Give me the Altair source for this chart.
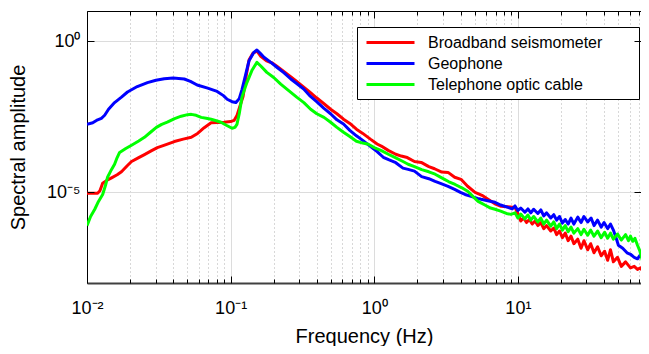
import json
import altair as alt
import pandas as pd

FONT = "Liberation Sans"

SERIES = ["Broadband seismometer", "Geophone", "Telephone optic cable"]
COLORS = ["#ff0000", "#0000ff", "#00ff00"]

# values, as log10(frequency in Hz) and log10(amplitude)
bb_logf = [-2.000, -1.960, -1.926, -1.910, -1.891, -1.860, -1.829, -1.790, -1.760, -1.720,
           -1.690, -1.640, -1.600, -1.550, -1.510, -1.450, -1.392, -1.330, -1.274, -1.230,
           -1.184, -1.136, -1.090, -1.046, -1.000, -0.976, -0.955, -0.942, -0.913, -0.890,
           -0.872, -0.845, -0.817, -0.790, -0.750, -0.710, -0.678, -0.630, -0.580, -0.540,
           -0.491, -0.450, -0.400, -0.350, -0.304, -0.260, -0.214, -0.170, -0.124, -0.080,
           -0.027, 0.020, 0.049, 0.100, 0.150, 0.188, 0.230, 0.280, 0.327, 0.380,
           0.420, 0.470, 0.514, 0.560, 0.604, 0.650, 0.702, 0.750, 0.792, 0.840,
           0.883, 0.930, 0.980, 1.000, 1.020, 1.040, 1.060, 1.080, 1.100, 1.120,
           1.139, 1.160, 1.180, 1.200, 1.229, 1.250, 1.270, 1.290, 1.310, 1.330,
           1.350, 1.370, 1.390, 1.417, 1.440, 1.460, 1.486, 1.507, 1.530, 1.555,
           1.580, 1.604, 1.625, 1.645, 1.665, 1.694, 1.720, 1.750, 1.784, 1.810,
           1.833, 1.854, 1.875, 1.890]
bb_loga = [-5.03, -5.03, -5.03, -4.95, -4.70, -4.60, -4.52, -4.42, -4.32, -4.12,
           -3.98, -3.85, -3.75, -3.62, -3.52, -3.42, -3.32, -3.24, -3.18, -3.05,
           -2.86, -2.70, -2.69, -2.68, -2.66, -2.62, -2.45, -2.25, -1.82, -1.10,
           -0.62, -0.40, -0.32, -0.50, -0.65, -0.72, -0.83, -1.00, -1.18, -1.33,
           -1.52, -1.68, -1.88, -2.07, -2.25, -2.40, -2.58, -2.72, -2.91, -3.05,
           -3.24, -3.40, -3.47, -3.62, -3.74, -3.80, -3.85, -3.98, -4.01, -4.15,
           -4.22, -4.33, -4.34, -4.50, -4.57, -4.80, -5.00, -5.10, -5.23, -5.38,
           -5.46, -5.48, -5.50, -5.70, -5.95, -5.85, -6.00, -5.90, -6.05, -5.95,
           -6.10, -6.00, -6.20, -6.10, -6.28, -6.18, -6.40, -6.28, -6.50, -6.35,
           -6.60, -6.45, -6.70, -6.55, -6.85, -6.60, -6.90, -6.70, -7.00, -6.80,
           -7.10, -6.95, -7.25, -6.90, -7.30, -7.15, -7.45, -7.30, -7.50, -7.45,
           -7.55, -7.50, -7.65, -7.70]

geo_logf = [-2.000, -1.960, -1.926, -1.900, -1.877, -1.850, -1.808, -1.760, -1.718, -1.650,
            -1.579, -1.520, -1.462, -1.400, -1.323, -1.280, -1.233, -1.160, -1.094, -1.050,
            -1.024, -0.990, -0.963, -0.940, -0.921, -0.895, -0.872, -0.840, -0.817, -0.790,
            -0.768, -0.720, -0.678, -0.630, -0.581, -0.540, -0.491, -0.450, -0.401, -0.350,
            -0.304, -0.260, -0.214, -0.170, -0.124, -0.080, -0.027, 0.020, 0.063, 0.100,
            0.150, 0.200, 0.236, 0.280, 0.330, 0.380, 0.424, 0.470, 0.514, 0.560,
            0.600, 0.632, 0.680, 0.720, 0.744, 0.790, 0.841, 0.880, 0.931, 0.960,
            0.980, 1.000, 1.020, 1.049, 1.070, 1.090, 1.110, 1.139, 1.160, 1.180,
            1.200, 1.229, 1.250, 1.270, 1.290, 1.310, 1.330, 1.350, 1.370, 1.390,
            1.417, 1.440, 1.460, 1.486, 1.510, 1.530, 1.555, 1.580, 1.600, 1.625,
            1.645, 1.665, 1.680, 1.700, 1.730, 1.760, 1.784, 1.810, 1.833, 1.855,
            1.875, 1.890]
geo_loga = [-2.75, -2.70, -2.60, -2.55, -2.45, -2.25, -2.03, -1.85, -1.68, -1.50,
            -1.37, -1.29, -1.24, -1.22, -1.25, -1.33, -1.45, -1.55, -1.66, -1.80,
            -1.92, -2.00, -2.03, -1.90, -1.60, -1.10, -0.65, -0.38, -0.29, -0.42,
            -0.53, -0.70, -0.86, -1.04, -1.25, -1.40, -1.58, -1.80, -2.00, -2.22,
            -2.40, -2.60, -2.74, -2.95, -3.13, -3.28, -3.48, -3.65, -3.84, -3.92,
            -4.02, -4.20, -4.24, -4.30, -4.48, -4.55, -4.64, -4.72, -4.80, -4.90,
            -5.00, -5.07, -5.14, -5.20, -5.23, -5.28, -5.33, -5.42, -5.50, -5.55,
            -5.45, -5.60, -5.52, -5.66, -5.55, -5.68, -5.56, -5.70, -5.58, -5.78,
            -5.68, -5.85, -5.74, -5.92, -5.80, -6.02, -5.90, -6.05, -5.85, -6.05,
            -5.82, -6.00, -5.80, -5.98, -5.85, -6.10, -5.92, -6.15, -6.00, -6.20,
            -6.05, -6.25, -6.45, -6.75, -6.85, -7.00, -7.05, -7.15, -7.20, -7.05,
            -6.95, -7.00]

tel_logf = [-2.000, -1.975, -1.946, -1.920, -1.891, -1.870, -1.857, -1.830, -1.808, -1.790,
            -1.773, -1.730, -1.690, -1.640, -1.600, -1.560, -1.517, -1.480, -1.441, -1.390,
            -1.344, -1.300, -1.274, -1.240, -1.205, -1.170, -1.136, -1.100, -1.067, -1.030,
            -0.990, -0.970, -0.956, -0.940, -0.921, -0.900, -0.886, -0.850, -0.817, -0.790,
            -0.748, -0.700, -0.651, -0.600, -0.540, -0.490, -0.443, -0.400, -0.350, -0.304,
            -0.260, -0.214, -0.170, -0.124, -0.080, -0.041, 0.000, 0.050, 0.098, 0.150,
            0.200, 0.236, 0.280, 0.330, 0.380, 0.424, 0.470, 0.520, 0.563, 0.610,
            0.653, 0.690, 0.723, 0.770, 0.810, 0.841, 0.880, 0.920, 0.952, 0.980,
            1.000, 1.020, 1.049, 1.070, 1.090, 1.110, 1.139, 1.160, 1.180, 1.200,
            1.229, 1.250, 1.270, 1.290, 1.310, 1.330, 1.350, 1.370, 1.390, 1.417,
            1.440, 1.460, 1.486, 1.507, 1.530, 1.555, 1.580, 1.604, 1.625, 1.645,
            1.665, 1.694, 1.720, 1.750, 1.770, 1.784, 1.800, 1.815, 1.833, 1.850,
            1.867, 1.880, 1.892]
tel_loga = [-6.10, -5.80, -5.56, -5.30, -5.07, -4.75, -4.50, -4.25, -4.07, -3.85,
            -3.68, -3.55, -3.44, -3.30, -3.18, -3.02, -2.85, -2.75, -2.68, -2.56,
            -2.48, -2.43, -2.42, -2.45, -2.52, -2.55, -2.58, -2.63, -2.68, -2.78,
            -2.88, -2.85, -2.75, -2.40, -1.85, -1.55, -1.36, -0.95, -0.70, -0.82,
            -1.03, -1.20, -1.42, -1.62, -1.85, -2.03, -2.25, -2.40, -2.52, -2.68,
            -2.85, -3.01, -3.15, -3.31, -3.37, -3.41, -3.52, -3.62, -3.74, -3.86,
            -3.98, -4.07, -4.15, -4.25, -4.32, -4.40, -4.52, -4.65, -4.74, -4.85,
            -4.97, -5.15, -5.30, -5.42, -5.52, -5.56, -5.62, -5.70, -5.73, -5.68,
            -5.85, -5.72, -5.88, -5.75, -5.92, -5.80, -5.98, -5.85, -6.05, -5.92,
            -6.12, -5.98, -6.20, -6.05, -6.25, -6.10, -6.30, -6.15, -6.35, -6.20,
            -6.40, -6.22, -6.42, -6.25, -6.45, -6.28, -6.50, -6.32, -6.52, -6.35,
            -6.55, -6.38, -6.58, -6.40, -6.60, -6.45, -6.62, -6.52, -6.75, -6.95,
            -7.25, -7.60, -8.10]

X_MAJOR = [0.01, 0.1, 1, 10]
X_MAJOR_LABELS = ["10⁻²", "10⁻¹", "10⁰", "10¹"]
X_MINOR = [0.02, 0.03, 0.04, 0.05, 0.06, 0.07, 0.08, 0.09,
           0.2, 0.3, 0.4, 0.5, 0.6, 0.7, 0.8, 0.9,
           2, 3, 4, 5, 6, 7, 8, 9,
           20, 30, 40, 50, 60, 70]
Y_MAJOR = [1e-05, 1]
Y_MAJOR_LABELS = ["10⁻⁵", "10⁰"]

X_DOMAIN = [0.01, 72]
Y_DOMAIN = [1e-08, 10]

PLOT_W, PLOT_H = 554, 272

rows = []
for name, lf, la in zip(SERIES, [bb_logf, geo_logf, tel_logf], [bb_loga, geo_loga, tel_loga]):
    for f, a in zip(lf, la):
        rows.append({"series": name, "freq": 10 ** f, "amp": 10 ** a})
df = pd.DataFrame(rows)


def label_expr(values, labels):
    expr = "''"
    for v, t in reversed(list(zip(values, labels))):
        expr = f"datum.value == {v!r} ? '{t}' : ({expr})"
    return expr


x_all = sorted(X_MAJOR + X_MINOR)
major_test = f"indexof({json.dumps(X_MAJOR)}, datum.value) >= 0"

xs = alt.Scale(type="log", domain=X_DOMAIN, nice=False)
ys = alt.Scale(type="log", domain=Y_DOMAIN, nice=False)

x_main = alt.Axis(
    values=x_all, labelExpr=label_expr(X_MAJOR, X_MAJOR_LABELS), ticks=False, tickSize=0,
    domain=True, domainColor="#404040", domainWidth=2,
    grid=True,
    gridColor={"condition": {"test": major_test, "value": "#dcdcdc"}, "value": "#b0b0b0"},
    gridDash={"condition": {"test": major_test, "value": []}, "value": [1, 3]},
    gridWidth=1,
    labelFont=FONT, labelFontSize=18, labelColor="black", labelPadding=16,
    labelBaseline="top", labelOverlap=False, labelFlush=False,
    title="Frequency (Hz)", titleFont=FONT, titleFontSize=20, titleFontWeight="normal",
    titleColor="black", titleY=59, titleBaseline="alphabetic",
)
y_main = alt.Axis(
    values=Y_MAJOR, labelExpr=label_expr(Y_MAJOR, Y_MAJOR_LABELS), ticks=False, tickSize=0,
    domain=True, domainColor="black", domainWidth=1,
    grid=True, gridColor="#dcdcdc", gridWidth=1,
    labelFont=FONT, labelFontSize=18, labelColor="black", labelPadding=7,
    labelBaseline="middle", labelOverlap=False, labelFlush=False,
    title="Spectral amplitude", titleFont=FONT, titleFontSize=20, titleFontWeight="normal",
    titleColor="black", titleX=-63, titleY=136, titleBaseline="alphabetic", titleAlign="center",
)

tick_size = {"condition": {"test": major_test, "value": 7}, "value": 4}


def tick_axis_x(orient, domain):
    return alt.Axis(orient=orient, offset=-PLOT_H, values=x_all, labels=False, grid=False,
                    ticks=True, tickSize=tick_size, tickColor="black", tickWidth=1,
                    domain=domain, domainColor="black", domainWidth=1, title=None, zindex=1)


def tick_axis_y(orient, domain):
    return alt.Axis(orient=orient, offset=-PLOT_W, values=Y_MAJOR, labels=False, grid=False,
                    ticks=True, tickSize=7, tickColor="black", tickWidth=1,
                    domain=domain, domainColor="black", domainWidth=1, title=None, zindex=1)


# legend line symbol; the trailing move-to only widens the legend frame
legend = alt.Legend(
    orient="none", legendX=270, legendY=16, title=None,
    symbolType="M-1,0H5M31.5,0", symbolSize=256, symbolStrokeWidth=3,
    symbolOffset=2, labelOffset=44, rowPadding=3, labelLimit=400,
    labelFont=FONT, labelFontSize=16, labelColor="black",
    padding=6, strokeColor="black", fillColor="white", cornerRadius=0,
)

base = alt.Chart(df)

lines = base.mark_line(strokeWidth=3, clip=True, strokeJoin="round").encode(
    x=alt.X("freq:Q", scale=xs, axis=x_main),
    y=alt.Y("amp:Q", scale=ys, axis=y_main),
    color=alt.Color("series:N", scale=alt.Scale(domain=SERIES, range=COLORS), legend=legend),
    detail="series:N",
)

ticks_a = base.mark_line(opacity=0).encode(
    x=alt.X("freq:Q", scale=xs, axis=tick_axis_x("top", False)),
    y=alt.Y("amp:Q", scale=ys, axis=tick_axis_y("right", False)),
    detail="series:N",
)
ticks_b = base.mark_line(opacity=0).encode(
    x=alt.X("freq:Q", scale=xs, axis=tick_axis_x("bottom", True)),
    y=alt.Y("amp:Q", scale=ys, axis=tick_axis_y("left", True)),
    detail="series:N",
)

chart = (
    alt.layer(lines, ticks_a, ticks_b)
    .resolve_axis(x="independent", y="independent")
    .properties(
        width=PLOT_W, height=PLOT_H,
        autosize=alt.AutoSizeParams(type="none"),
        padding={"left": 79, "top": 3, "right": 0, "bottom": 63},
        background="white",
    )
    .configure_view(strokeWidth=0)
)

chart.save("out.html", embed_options={"renderer": "svg", "actions": False})
